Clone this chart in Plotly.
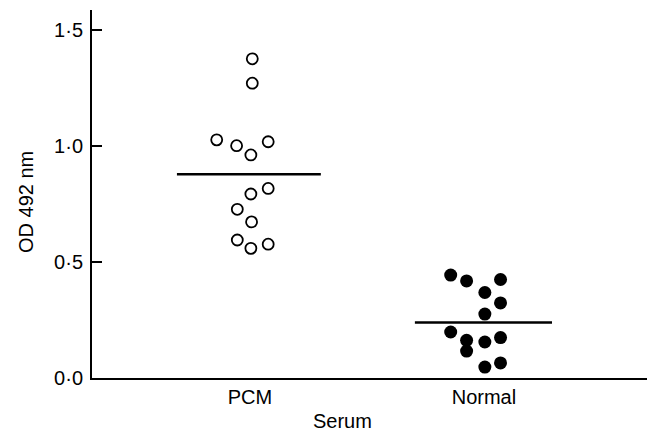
import plotly.graph_objects as go

# ---- data ----
categories = ["PCM", "Normal"]
cat_pos = [1, 2]

pcm_values = [1.374, 1.269, 1.025, 1.000, 1.017, 0.960, 0.816, 0.792, 0.726, 0.672, 0.594, 0.558, 0.576]
pcm_jitter = [0.010, 0.010, -0.142, -0.057, 0.078, 0.004, 0.078, 0.004, -0.054, 0.007, -0.054, 0.004, 0.078]

normal_values = [0.443, 0.418, 0.424, 0.368, 0.323, 0.275, 0.198, 0.162, 0.155, 0.174, 0.116, 0.047, 0.065]
normal_jitter = [-0.142, -0.074, 0.071, 0.004, 0.071, 0.004, -0.142, -0.074, 0.004, 0.071, -0.074, 0.004, 0.071]

means = [0.877, 0.239]

y_tickvals = [0.0, 0.5, 1.0, 1.5]
y_ticktext = ["0·0", "0·5", "1·0", "1·5"]

# mean line extents (style: left/right half-widths around category)
mean_left = [0.312, 0.295]
mean_right = [0.303, 0.291]

FONT = "Liberation Sans, Arial, Helvetica, sans-serif"
FS = 20

fig = go.Figure()

fig.add_trace(go.Scatter(
    x=[cat_pos[0] + j for j in pcm_jitter], y=pcm_values, mode="markers",
    marker=dict(symbol="circle-open", size=11, color="black", line=dict(width=1.8, color="black")),
    showlegend=False, hoverinfo="skip"))

fig.add_trace(go.Scatter(
    x=[cat_pos[1] + j for j in normal_jitter], y=normal_values, mode="markers",
    marker=dict(symbol="circle", size=13, color="black", line=dict(width=0)),
    showlegend=False, hoverinfo="skip"))

for i, m in enumerate(means):
    fig.add_trace(go.Scatter(
        x=[cat_pos[i] - mean_left[i], cat_pos[i] + mean_right[i]], y=[m, m],
        mode="lines", line=dict(color="black", width=2.5),
        showlegend=False, hoverinfo="skip"))

W, H = 647, 434
l, r, t, b = 92, 0, 10, 56

fig.update_layout(
    width=W, height=H,
    margin=dict(l=l, r=r, t=t, b=b),
    paper_bgcolor="white", plot_bgcolor="white",
    font=dict(family=FONT, size=FS, color="black"),
    xaxis=dict(
        range=[0.325, 2.697], tickvals=cat_pos, ticktext=categories,
        showgrid=False, zeroline=False, showline=True, linecolor="black", linewidth=2,
        ticks="", tickfont=dict(size=FS), fixedrange=True),
    yaxis=dict(
        range=[0, 1.584], tickvals=y_tickvals, ticktext=y_ticktext,
        showgrid=False, zeroline=False, showline=True, linecolor="black", linewidth=2,
        ticks="inside", ticklen=10, tickwidth=1.5, tickcolor="black",
        ticklabelstandoff=3,
        tickfont=dict(size=FS), fixedrange=True),
)

pw, ph = W - l - r, H - t - b


def px_to_paper(px, py):
    return (px - l) / pw, 1 - (py - t) / ph


ax, ay = px_to_paper(26, 202)
sx, sy = px_to_paper(342, 421)
fig.add_annotation(text="OD 492 nm", x=ax, xref="paper", xanchor="center",
                   y=ay, yref="paper", yanchor="middle", showarrow=False,
                   textangle=-90, font=dict(size=FS))
fig.add_annotation(text="Serum", x=sx, xref="paper", xanchor="center",
                   y=sy, yref="paper", yanchor="middle", showarrow=False,
                   font=dict(size=FS))

fig.write_html("out.html", config={"displayModeBar": False},
               post_script="document.body.style.margin='0';")
